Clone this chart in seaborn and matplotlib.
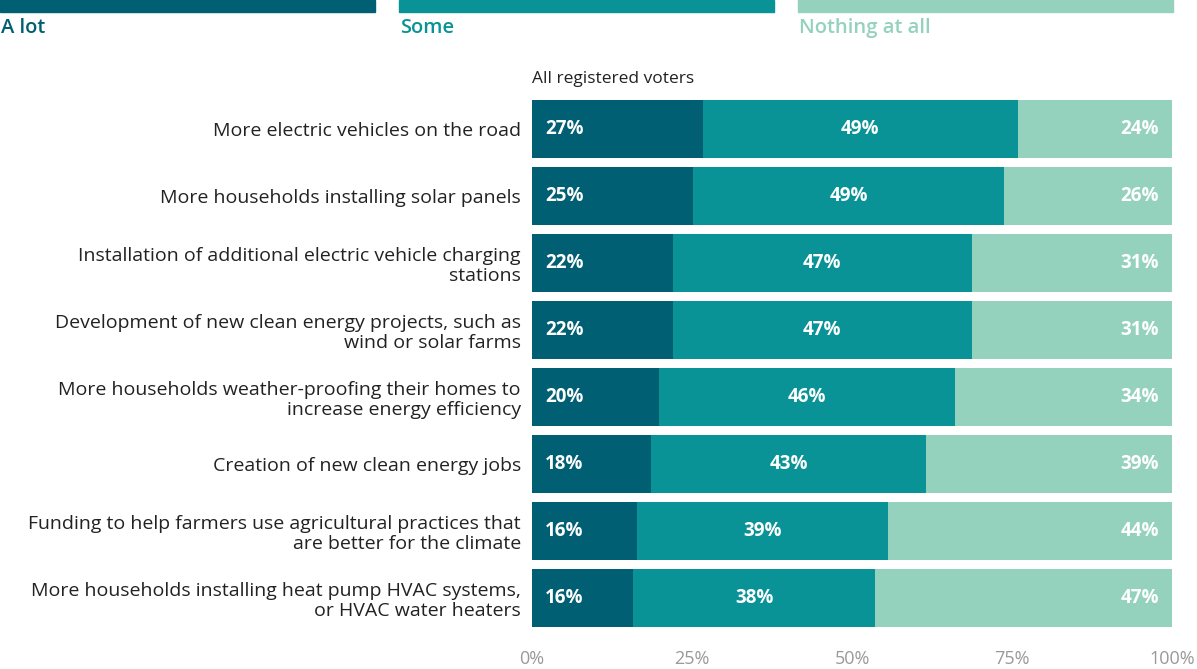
import matplotlib.pyplot as plt
import seaborn as sns
import pandas as pd

# survey items, top to bottom
items = [
    "More electric vehicles on the road",
    "More households installing solar panels",
    "Installation of additional electric vehicle charging\nstations",
    "Development of new clean energy projects, such as\nwind or solar farms",
    "More households weather-proofing their homes to\nincrease energy efficiency",
    "Creation of new clean energy jobs",
    "Funding to help farmers use agricultural practices that\nare better for the climate",
    "More households installing heat pump HVAC systems,\nor HVAC water heaters",
]

# bar lengths (unrounded shares)
a_lot = [26.7, 25.2, 22.0, 22.0, 19.8, 18.6, 16.4, 15.8]
some = [49.2, 48.6, 46.7, 46.7, 46.3, 43.0, 39.2, 37.8]
nothing = [24.1, 26.2, 31.3, 31.3, 33.9, 38.4, 44.4, 46.4]

# printed labels
a_lot_lbl = [27, 25, 22, 22, 20, 18, 16, 16]
some_lbl = [49, 49, 47, 47, 46, 43, 39, 38]
nothing_lbl = [24, 26, 31, 31, 34, 39, 44, 47]

colors = ["#005f73", "#0a9396", "#94d2bd"]
series = ["A lot", "Some", "Nothing at all"]

df = pd.DataFrame({"item": items, "a_lot": a_lot, "some": some, "nothing": nothing})
df["cum_some"] = df["a_lot"] + df["some"]
df["total"] = df["cum_some"] + df["nothing"]

sns.set_theme(style="white")
plt.rcParams["font.family"] = ["Open Sans", "DejaVu Sans"]

fig = plt.figure(figsize=(11.97, 6.69), dpi=100)
ax = fig.add_axes([532 / 1197, 1 - 631.5 / 669, 640 / 1197, 536 / 669])

# stacked by overlaying cumulative totals
for col, c in zip(["total", "cum_some", "a_lot"], colors[::-1]):
    sns.barplot(data=df, x=col, y="item", orient="h", color=c,
                saturation=1, width=0.87, linewidth=0, ax=ax)

for i in range(len(items)):
    ax.text(2, i, f"{a_lot_lbl[i]}%", ha="left", va="center",
            color="white", fontsize=13.5, fontweight="bold")
    ax.text(a_lot[i] + some[i] / 2, i, f"{some_lbl[i]}%", ha="center",
            va="center", color="white", fontsize=13.5, fontweight="bold")
    ax.text(98, i, f"{nothing_lbl[i]}%", ha="right", va="center",
            color="white", fontsize=13.5, fontweight="bold")

ax.set_xlim(0, 100)
ax.set_ylim(7.5, -0.5)
ax.set_xlabel("")
ax.set_ylabel("")
ax.set_xticks([0, 25, 50, 75, 100])
ax.set_xticklabels(["0%", "25%", "50%", "75%", "100%"])
ax.tick_params(axis="x", colors="#999999", labelsize=13, pad=13, length=0)
ax.tick_params(axis="y", labelsize=14, colors="#222222", pad=8, length=0)
for lab in ax.get_yticklabels():
    lab.set_linespacing(1.15)
sns.despine(ax=ax, left=True, bottom=True)

ax.text(0, 1.03, "All registered voters", transform=ax.transAxes,
        ha="left", va="center", fontsize=12.5, color="#222222")

# legend: color bars with labels underneath
legend_x = [0, 399, 798]
for x0, c, name in zip(legend_x, colors, series):
    fig.patches.append(plt.Rectangle((x0 / 1197, 1 - 12 / 669), 375 / 1197, 12 / 669,
                                     transform=fig.transFigure, color=c))
    fig.text((x0 + 1) / 1197, 1 - 28 / 669, name, ha="left", va="center",
             fontsize=14.5, fontweight="semibold", color=c)

fig.savefig("out.png", dpi=100)
